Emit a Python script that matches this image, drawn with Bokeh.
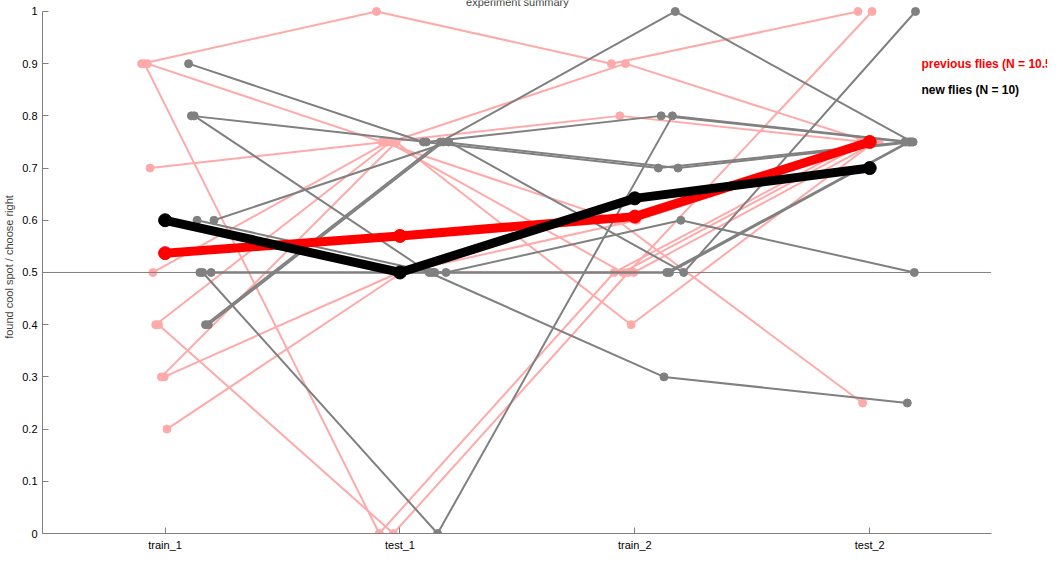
from bokeh.plotting import figure
from bokeh.models import FixedTicker, Span, Label
from bokeh.embed import file_html
from bokeh.resources import INLINE

phases = ["train_1", "test_1", "train_2", "test_2"]

# previous flies, one row per fly (train_1, test_1, train_2, test_2)
prev_flies = [
    [0.9, 1.0, 0.9, 1.0],
    [0.9, 0.0, 0.5, 0.75],
    [0.9, 0.75, 0.6, 0.25],
    [0.7, 0.75, 0.8, 0.75],
    [0.5, 0.75, 0.5, 0.75],
    [0.4, 0.75, 0.9, 0.75],
    [0.4, 0.0, 0.5, 1.0],
    [0.3, 0.75, 0.4, 0.75],
    [0.3, 0.5, 0.5, 0.75],
    [0.2, 0.5, 0.6, 0.75],
]
# new flies
new_flies = [
    [0.9, 0.75, 0.7, 0.75],
    [0.8, 0.75, 0.8, 0.75],
    [0.8, 0.5, 0.3, 0.25],
    [0.6, 0.5, 0.5, 0.75],
    [0.5, 0.5, 0.5, 0.75],
    [0.5, 0.0, 0.8, 0.75],
    [0.4, 0.75, 1.0, 0.75],
    [0.4, 0.75, 0.7, 0.75],
    [0.5, 0.5, 0.6, 0.5],
    [0.6, 0.75, 0.5, 1.0],
]
prev_mean = [0.537, 0.57, 0.607, 0.75]
new_mean = [0.60, 0.50, 0.642, 0.70]

PINK = "#ffaaaa"
GREY = "#808080"
FONT = "Liberation Sans"

# ranges extended past the axes so title and legend texts are not clipped
p = figure(width=1047, height=553, x_range=(0.478, 4.757), y_range=(0, 1.021),
           output_backend="svg", toolbar_location=None,
           min_border_left=30, min_border_right=0, min_border_top=0,
           min_border_bottom=17)
p.outline_line_color = None
p.grid.grid_line_color = None
p.background_fill_color = "white"

base = [1, 2, 3, 4]
for i, fly in enumerate(prev_flies):
    xs = [b - 0.1 + 0.012 * i if k < 3 else b - 0.05 + 0.01 * i for k, b in enumerate(base)]
    p.line(xs, fly, line_color=PINK, line_width=2)
    p.scatter(xs, fly, size=8, fill_color=PINK, line_color=PINK)
for i, fly in enumerate(new_flies):
    xs = [b + 0.1 + 0.012 * i if k < 3 else b + 0.15 + 0.005 * i for k, b in enumerate(base)]
    p.line(xs, fly, line_color=GREY, line_width=2)
    p.scatter(xs, fly, size=8, fill_color=GREY, line_color=GREY)

p.segment(x0=[0.478], y0=[0.5], x1=[4.517], y1=[0.5], line_color=GREY, line_width=1)

p.line(base, prev_mean, line_color="red", line_width=9)
p.scatter(base, prev_mean, size=13, fill_color="red", line_color="red")
p.line(base, new_mean, line_color="black", line_width=9)
p.scatter(base, new_mean, size=13, fill_color="black", line_color="black")

p.xaxis.ticker = FixedTicker(ticks=base)
p.xaxis.major_label_overrides = {i + 1: n for i, n in enumerate(phases)}
p.xaxis.bounds = (0.478, 4.517)
p.yaxis.ticker = FixedTicker(ticks=[i / 10 for i in range(11)])
p.yaxis.major_label_overrides = {i / 10: ("0" if i == 0 else "1" if i == 10 else f"0.{i}") for i in range(11)}
p.yaxis.bounds = (0, 1)
p.yaxis.axis_label = "found cool spot / choose right"
for ax in (p.xaxis, p.yaxis):
    ax.axis_line_color = GREY
    ax.major_tick_line_color = GREY
    ax.major_tick_in = 6
    ax.major_tick_out = 0
    ax.minor_tick_line_color = None
    ax.major_label_text_font = FONT
    ax.major_label_text_font_size = "11px"
    ax.major_label_text_color = "black"
    ax.axis_label_text_font = FONT
    ax.axis_label_text_font_style = "normal"
    ax.axis_label_text_font_size = "11px"
p.yaxis.axis_label_standoff = 4

p.add_layout(Label(x=2.5, y=1.006, text="experiment summary", text_align="center",
                   text_baseline="bottom", text_font=FONT, text_font_size="11px"))
p.add_layout(Label(x=4.22, y=0.899, text="previous flies (N = 10.5)", text_color="red",
                   text_baseline="middle", text_font=FONT, text_font_size="12px",
                   text_font_style="bold"))
p.add_layout(Label(x=4.22, y=0.85, text="new flies (N = 10)", text_color="black",
                   text_baseline="middle", text_font=FONT, text_font_size="12px",
                   text_font_style="bold"))

open("out.html", "w").write(file_html(p, INLINE))
